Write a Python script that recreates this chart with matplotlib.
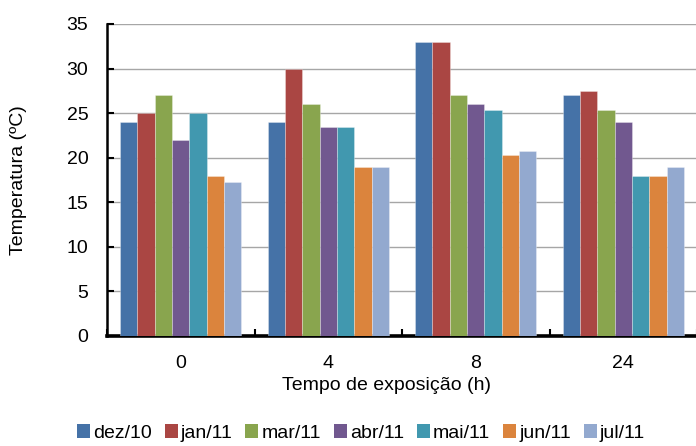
import matplotlib
matplotlib.use("Agg")
import matplotlib.pyplot as plt
import numpy as np
from matplotlib.patches import Patch

plt.rcParams['font.family'] = ['Liberation Sans', 'DejaVu Sans']

categories = ["0", "4", "8", "24"]
series_names = ["dez/10", "jan/11", "mar/11", "abr/11", "mai/11", "jun/11", "jul/11"]
dez10 = [24, 24, 33, 27]
jan11 = [25, 30, 33, 27.5]
mar11 = [27, 26, 27, 25.3]
abr11 = [22, 23.5, 26, 24]
mai11 = [25, 23.5, 25.3, 18]
jun11 = [18, 19, 20.3, 18]
jul11 = [17.3, 19, 20.8, 19]
yticks = [0, 5, 10, 15, 20, 25, 30, 35]

series = [dez10, jan11, mar11, abr11, mai11, jun11, jul11]
colors = ["#4572A7", "#AA4643", "#89A54E", "#71588F", "#4198AF", "#DB843D", "#93A9CF"]
FS = 14

fig = plt.figure(figsize=(6.96, 4.46), dpi=100)
ax = fig.add_axes([107 / 696, 1 - 336 / 446, 590 / 696, 312 / 446])

x = np.arange(len(categories))
n = len(series)
bw = 0.1176
for i, (vals, c) in enumerate(zip(series, colors)):
    offs = (i - (n - 1) / 2) * bw
    ax.bar(x + offs, vals, width=bw, color=c, edgecolor=(1, 1, 1, 0.35),
           linewidth=0.6, zorder=3)

ax.set_xlim(-0.5, len(categories) - 0.5)
ax.set_ylim(0, 35)
ax.set_yticks(yticks)
ax.set_yticklabels([str(v) for v in yticks], fontsize=FS)
ax.yaxis.grid(True, color="#A6A6A6", linewidth=1.0, zorder=0)
ax.set_axisbelow(True)

# category boundaries carry the tick marks; labels sit at the centres
ax.set_xticks(np.arange(-0.5, len(categories), 1.0))
ax.set_xticklabels([])
ax.set_xticks(x, minor=True)
ax.set_xticklabels(categories, minor=True, fontsize=FS)
ax.tick_params(axis="x", which="minor", length=0, pad=14)
ax.tick_params(axis="x", which="major", direction="in", length=5, width=1.5)
ax.tick_params(axis="y", direction="in", length=5, width=1.5, pad=13.5)

for s in ["top", "right"]:
    ax.spines[s].set_visible(False)
ax.spines["left"].set_linewidth(1.8)
ax.spines["bottom"].set_linewidth(2.6)

fig.text(386 / 696, 1 - 385 / 446, "Tempo de exposição (h)", fontsize=FS,
         ha="center", va="center")
fig.text(18.5 / 696, 1 - 180 / 446, "Temperatura (ºC)", rotation=90,
         fontsize=FS, ha="center", va="center")

handles = [Patch(facecolor=c, edgecolor="none") for c in colors]
fig.legend(handles, series_names, loc="center", bbox_to_anchor=(361 / 696, 1 - 433 / 446),
           ncol=7, frameon=False, fontsize=FS, handlelength=0.67, handleheight=0.67,
           handletextpad=0.15, columnspacing=0.67, borderaxespad=0, borderpad=0)

fig.savefig("out.png", dpi=100)
